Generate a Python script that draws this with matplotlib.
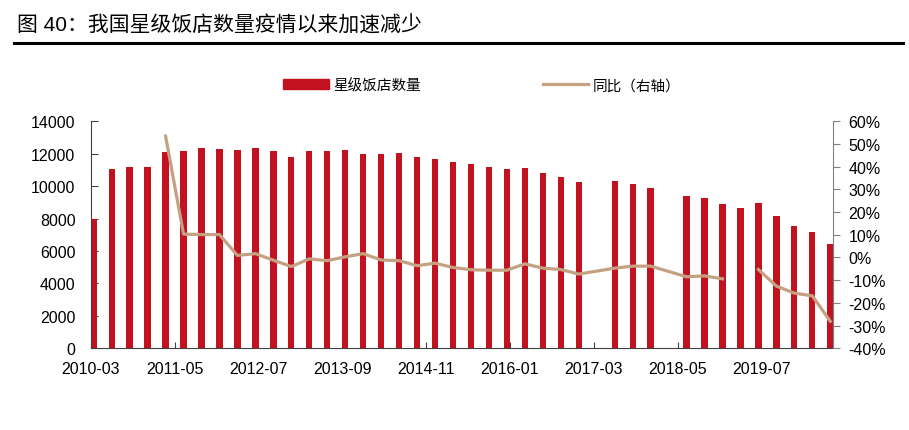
import numpy as np
import matplotlib
matplotlib.use("Agg")
import matplotlib.pyplot as plt
from matplotlib.lines import Line2D
from matplotlib.patches import Patch

plt.rcParams['font.family'] = ['Liberation Sans', 'Noto Sans CJK SC']

nan = np.nan

# quarterly data, 2010-03 to 2020-06 (one value per quarter)
quarters = [f"{y}-{m:02d}" for y in range(2010, 2021) for m in (3, 6, 9, 12)][:42]

# number of star-rated hotels
hotels = [7980, 11060, 11200, 11180, 12120, 12190, 12330, 12290, 12230, 12370,
          12190, 11780, 12150, 12190, 12250, 11980, 12000, 12040, 11820, 11690,
          11470, 11370, 11160, 11040, 11120, 10830, 10560, 10240, nan, 10320,
          10150, 9870, nan, 9410, 9290, 8920, 8650, 8940, 8160, 7520,
          7170, 6430]

# year on year change, %
yoy = [nan, nan, nan, nan, 53.5, 10.3, 10.1, 10.1, 0.9, 1.7,
       -1.2, -4.0, -0.6, -1.4, 0.3, 1.7, -1.1, -1.4, -3.6, -2.5,
       -4.4, -5.4, -5.6, -5.6, -2.8, -4.7, -5.3, -7.3, nan, -4.7,
       -3.8, -3.8, nan, -8.5, -8.1, -9.4, nan, -5.3, -12.6, -15.7,
       -16.9, -28.1]

tick_labels = ['2010-03', '2011-05', '2012-07', '2013-09', '2014-11',
               '2016-01', '2017-03', '2018-05', '2019-07']

title = '图 40：我国星级饭店数量疫情以来加速减少'

bar_color = '#C3121F'
line_color = '#C4A181'

# month axis: quarter k sits in the middle of month slot 3k
x = np.arange(len(quarters)) * 3 + 0.5

fig = plt.figure(figsize=(9.09, 4.31), dpi=100)
ax = fig.add_axes([0.0998, 0.1896, 0.8169, 0.5266])
ax2 = ax.twinx()

h = np.array(hotels, dtype=float)
ax.bar(x[~np.isnan(h)], h[~np.isnan(h)], width=1.05, color=bar_color, zorder=2)

# line: missing quarters without a bar are bridged, a missing value with a bar breaks the line
y = np.array(yoy, dtype=float)
seg_x, seg_y = [], []
for i in range(len(y)):
    if np.isnan(y[i]):
        if not np.isnan(h[i]) and seg_x:
            ax2.plot(seg_x, seg_y, color=line_color, lw=2.3, solid_joinstyle='round')
            seg_x, seg_y = [], []
        continue
    seg_x.append(x[i])
    seg_y.append(y[i])
if seg_x:
    ax2.plot(seg_x, seg_y, color=line_color, lw=2.3, solid_joinstyle='round')

ax.set_xlim(0, 124)
ax.set_ylim(0, 14000)
ax.set_yticks(range(0, 14001, 2000))
ax2.set_ylim(-40, 60)
ax2.set_yticks(range(-40, 61, 10))
ax2.set_yticklabels([f'{v}%' for v in range(-40, 61, 10)])

ax.set_xticks(np.arange(len(tick_labels)) * 14)
ax.set_xticklabels(tick_labels)

for a in (ax, ax2):
    a.set_zorder(1)
    a.patch.set_visible(False)
    for s in a.spines.values():
        s.set_visible(False)
ax2.set_zorder(3)

ax.spines['left'].set_visible(True)
ax.spines['left'].set_color('#404040')
ax.spines['bottom'].set_visible(True)
ax.spines['bottom'].set_color('#404040')
ax2.spines['right'].set_visible(True)
ax2.spines['right'].set_color('#808080')

ax.tick_params(axis='x', direction='in', length=4, color='#404040', labelsize=11.5, pad=9)
ax.tick_params(axis='y', direction='in', length=5, color='#404040', labelsize=11.5, pad=11)
ax2.tick_params(axis='y', direction='out', length=5, color='#808080', labelsize=11.5, pad=6)

fig.text(17 / 909, 1 - 26 / 431, title, fontsize=15, va='center', ha='left')
fig.add_artist(Line2D([14 / 909, 903 / 909], [1 - 43.5 / 431] * 2,
                      transform=fig.transFigure, color='black', lw=2.2))

handles = [Patch(color=bar_color), Line2D([], [], color=line_color, lw=2.3)]
fig.legend(handles, ['星级饭店数量', '同比（右轴）'], ncol=2, frameon=False,
           loc='center', bbox_to_anchor=(482 / 909, 1 - 86 / 431),
           fontsize=10.5, handlelength=3.1, handletextpad=0.3, columnspacing=8.4)

fig.savefig('out.png', dpi=100)
